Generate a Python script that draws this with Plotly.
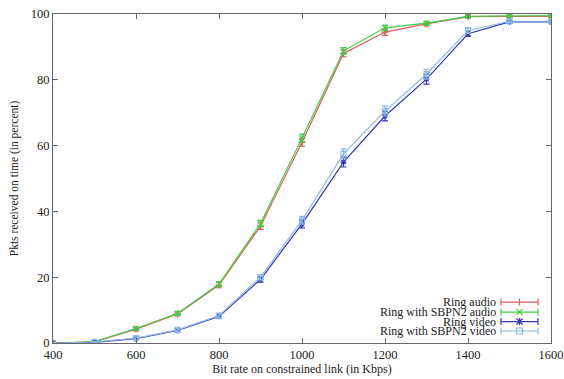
import plotly.graph_objects as go

bitrate = [400, 500, 600, 700, 800, 900, 1000, 1100, 1200, 1300, 1400, 1500, 1600]
ring_audio = [0, 0.3, 4.2, 8.8, 17.6, 35.5, 61.0, 88.0, 94.5, 97.0, 99.2, 99.3, 99.3]
sbpn2_audio = [0, 0.4, 4.4, 9.0, 17.9, 36.3, 62.3, 88.8, 95.8, 97.2, 99.3, 99.5, 99.5]
ring_video = [0, 0.2, 1.3, 3.8, 8.1, 19.3, 36.2, 55.0, 69.0, 80.2, 94.0, 97.6, 97.6]
sbpn2_video = [0, 0.3, 1.5, 4.0, 8.3, 20.0, 37.3, 57.5, 70.5, 81.7, 95.0, 97.8, 97.8]
ring_audio_err = [0.2, 0.3, 0.5, 0.6, 0.8, 1.0, 1.2, 1.0, 1.0, 0.6, 0.4, 0.4, 0.4]
sbpn2_audio_err = [0.2, 0.3, 0.5, 0.6, 0.8, 1.0, 1.2, 1.0, 0.8, 0.6, 0.4, 0.4, 0.4]
ring_video_err = [0.2, 0.2, 0.4, 0.5, 0.6, 0.8, 1.2, 1.5, 1.5, 1.5, 0.8, 0.4, 0.4]
sbpn2_video_err = [0.2, 0.2, 0.4, 0.5, 0.6, 0.8, 1.2, 1.5, 1.5, 1.5, 0.8, 0.4, 0.4]

series_names = ["Ring audio", "Ring with SBPN2 audio", "Ring video", "Ring with SBPN2 video"]
x_ticks = [400, 600, 800, 1000, 1200, 1400, 1600]
y_ticks = [0, 20, 40, 60, 80, 100]

colors = ["#dc5a5a", "#45cc45", "#3138b8", "#8ab8e6"]
symbols = ["cross-thin-open", "x-thin-open", "asterisk-open", "square-open"]
values = [ring_audio, sbpn2_audio, ring_video, sbpn2_video]
errs = [ring_audio_err, sbpn2_audio_err, ring_video_err, sbpn2_video_err]

fig = go.Figure()
for name, ys, es, c, s in zip(series_names, values, errs, colors, symbols):
    fig.add_trace(go.Scatter(
        x=bitrate, y=ys, name=name, mode="lines+markers",
        line=dict(color=c, width=1.2),
        marker=dict(symbol=s, size=5, color=c, line=dict(color=c, width=1.2)),
        error_y=dict(type="data", array=es, visible=True, color=c, thickness=1.2, width=3),
        showlegend=False,
    ))

W, H = 564, 379
L, R, T, B = 53, 551, 13.5, 343
def px(x):
    return (x - L) / (R - L)
def py(y):
    return (B - y) / (B - T)

font_family = "Liberation Serif"
shapes = []
annotations = []
rows = [302, 312, 321.5, 331]
x0, x1, xm = 501, 538, 519.5
for i, (name, c) in enumerate(zip(series_names, colors)):
    y = rows[i]
    annotations.append(dict(x=px(498), y=py(y), xref="paper", yref="paper", text=name,
                            showarrow=False, xanchor="right", yanchor="middle",
                            font=dict(family=font_family, size=12, color="#222")))
    ln = dict(color=c, width=1.2)
    shapes.append(dict(type="line", xref="paper", yref="paper", x0=px(x0), x1=px(x1), y0=py(y), y1=py(y), line=ln))
    for xx in (x0, x1):
        shapes.append(dict(type="line", xref="paper", yref="paper", x0=px(xx), x1=px(xx), y0=py(y - 3.5), y1=py(y + 3.5), line=ln))
    if i == 0:
        shapes.append(dict(type="line", xref="paper", yref="paper", x0=px(xm), x1=px(xm), y0=py(y - 3.5), y1=py(y + 3.5), line=ln))
    elif i == 1:
        shapes.append(dict(type="line", xref="paper", yref="paper", x0=px(xm - 3), x1=px(xm + 3), y0=py(y - 3), y1=py(y + 3), line=ln))
        shapes.append(dict(type="line", xref="paper", yref="paper", x0=px(xm - 3), x1=px(xm + 3), y0=py(y + 3), y1=py(y - 3), line=ln))
    elif i == 2:
        shapes.append(dict(type="line", xref="paper", yref="paper", x0=px(xm - 3), x1=px(xm + 3), y0=py(y - 3), y1=py(y + 3), line=ln))
        shapes.append(dict(type="line", xref="paper", yref="paper", x0=px(xm - 3), x1=px(xm + 3), y0=py(y + 3), y1=py(y - 3), line=ln))
        shapes.append(dict(type="line", xref="paper", yref="paper", x0=px(xm), x1=px(xm), y0=py(y - 3.5), y1=py(y + 3.5), line=ln))
    else:
        shapes.append(dict(type="rect", xref="paper", yref="paper", x0=px(xm - 3), x1=px(xm + 3), y0=py(y - 3), y1=py(y + 3), line=ln))

axis_common = dict(
    showline=True, linecolor="#666", linewidth=1, mirror="allticks",
    ticks="inside", ticklen=5, tickcolor="#666", tickwidth=1,
    showgrid=False, zeroline=False, automargin=False,
    tickfont=dict(family=font_family, size=12.5, color="#222"),
)

fig.update_layout(
    width=W, height=H,
    margin=dict(l=L, r=W - R, t=T, b=H - B),
    paper_bgcolor="white", plot_bgcolor="white",
    font=dict(family=font_family),
    xaxis=dict(range=[400, 1600], tickvals=x_ticks, ticktext=[str(v) for v in x_ticks],
               title=dict(text="Bit rate on constrained link (in Kbps)", standoff=3,
                          font=dict(family=font_family, size=12, color="#222")),
               **axis_common),
    yaxis=dict(range=[0, 100], tickvals=y_ticks, ticktext=[str(v) for v in y_ticks],
               title=dict(text="Pkts received on time (in percent)", standoff=9,
                          font=dict(family=font_family, size=11.5, color="#222")),
               **axis_common),
    shapes=shapes, annotations=annotations,
    showlegend=False,
)

fig.write_html("out.html", config={"displayModeBar": False},
               post_script="document.body.style.margin='0px';document.body.style.overflow='hidden';")
